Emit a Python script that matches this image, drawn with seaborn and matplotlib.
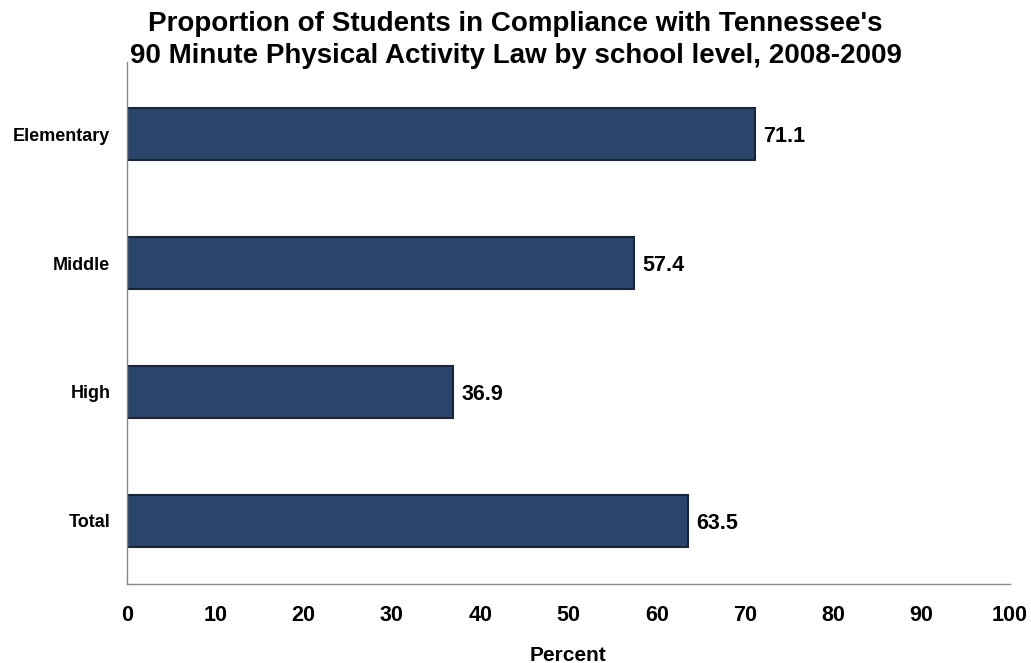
import matplotlib
matplotlib.use("Agg")
import matplotlib.pyplot as plt
import seaborn as sns
import pandas as pd

levels = ["Elementary", "Middle", "High", "Total"]
percent = [71.1, 57.4, 36.9, 63.5]
xticks = [0, 10, 20, 30, 40, 50, 60, 70, 80, 90, 100]

sns.set_theme(style="white")
plt.rcParams['font.family'] = ['Liberation Sans', 'DejaVu Sans']
plt.rcParams['text.color'] = 'black'
plt.rcParams['xtick.labelcolor'] = 'black'
plt.rcParams['ytick.labelcolor'] = 'black'
plt.rcParams['axes.labelcolor'] = 'black'

df = pd.DataFrame({"level": levels, "percent": percent})

fig = plt.figure(figsize=(10.31, 6.63), dpi=100)
ax = fig.add_axes([0.1232, 0.1192, 0.8564, 0.7873])
sns.barplot(data=df, y="level", x="percent", orient="h", color="#2b4469",
            width=0.40, edgecolor="#18253a", linewidth=1.5, saturation=1, ax=ax)

for i, v in enumerate(percent):
    ax.text(v + 1.0, i + 0.02, f"{v:.1f}", va="center", ha="left",
            fontsize=15.5, fontweight="bold", color="black")

ax.set_xlim(0, 100)
ax.set_ylim(3.49, -0.56)
ax.set_xticks(xticks)
ax.set_xticklabels([str(t) for t in xticks], fontsize=15.5, fontweight="bold")
ax.set_yticks(range(len(levels)))
ax.set_yticklabels(levels, fontsize=13, fontweight="bold")
ax.tick_params(axis="x", direction="out", length=5, width=1, color="#888888", pad=10.5)
ax.tick_params(axis="y", length=0, pad=12)
ax.set_xlabel("Percent", fontsize=15, fontweight="bold", labelpad=14)
ax.set_ylabel("")
for s in ["top", "right"]:
    ax.spines[s].set_visible(False)
for s in ["left", "bottom"]:
    ax.spines[s].set_color("#888888")
    ax.spines[s].set_linewidth(1)

fig.text(0.5, 0.983, "Proportion of Students in Compliance with Tennessee's\n90 Minute Physical Activity Law by school level, 2008-2009",
         ha="center", va="top", fontsize=20, fontweight="bold", linespacing=1.28, color="black")

fig.savefig("out.png", dpi=100)
